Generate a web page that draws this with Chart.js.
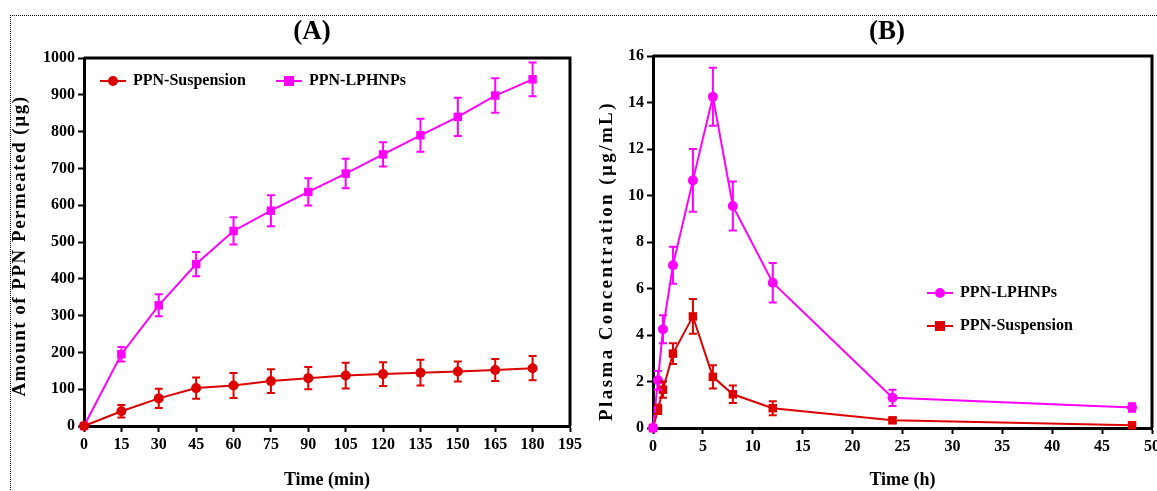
<!DOCTYPE html>
<html>
<head>
<meta charset="utf-8">
<script src="https://cdn.jsdelivr.net/npm/chart.js@4.4.0/dist/chart.umd.min.js"></script>
<style>
    html, body { margin: 0; padding: 0; background: #fff; overflow: hidden; }
    #wrap { position: relative; width: 1157px; height: 491px; }
    #frame {
        position: absolute; left: 10px; top: 15px; width: 1200px; height: 520px;
        border-top: 1px dotted #000; border-left: 1px dotted #000;
    }
    canvas { position: absolute; top: 0; }
</style>
</head>
<body>
<div id="wrap">
    <div id="frame"></div>
    <canvas id="chartA" width="600" height="491" style="left:0px"></canvas>
    <canvas id="chartB" width="579" height="491" style="left:578px"></canvas>
</div>
<script>
// (A) in-vitro permeation
const permeationTimes = [0, 15, 30, 45, 60, 75, 90, 105, 120, 135, 150, 165, 180];
const suspensionPermeated = [0, 40, 75, 103, 110, 122, 130, 137, 141, 145, 148, 152, 157];
const suspensionPermeatedSd = [0, 17, 26, 29, 34, 32, 30, 35, 32, 35, 27, 30, 33];
const lphnpPermeated = [0, 195, 328, 440, 530, 585, 636, 686, 738, 790, 840, 898, 942];
const lphnpPermeatedSd = [0, 20, 30, 33, 37, 42, 37, 40, 33, 45, 52, 47, 46];

// (B) plasma profile
const plasmaTimes = [0, 0.5, 1, 2, 4, 6, 8, 12, 24, 48];
const lphnpPlasma = [0, 2.05, 4.25, 7.0, 10.65, 14.25, 9.55, 6.25, 1.3, 0.88];
const lphnpPlasmaSd = [0, 0.4, 0.6, 0.8, 1.35, 1.25, 1.05, 0.85, 0.35, 0.18];
const suspensionPlasma = [0, 0.8, 1.65, 3.2, 4.8, 2.2, 1.45, 0.85, 0.33, 0.12];
const suspensionPlasmaSd = [0, 0.2, 0.35, 0.45, 0.75, 0.5, 0.38, 0.3, 0.1, 0.05];

const MAGENTA = '#FF00FF';
const RED = '#DD0000';
const FONT = "'Liberation Serif', 'Times New Roman', serif";

Chart.defaults.font.family = FONT;
Chart.defaults.font.weight = 'bold';
Chart.defaults.color = '#000';

function toPoints(xs, ys) {
    return xs.map((x, i) => ({ x, y: ys[i] }));
}

function makeDataset(label, xs, ys, sd, color, pointStyle) {
    return {
        label,
        data: toPoints(xs, ys),
        errors: sd,
        borderColor: color,
        backgroundColor: color,
        borderWidth: 2,
        pointStyle,
        pointRadius: pointStyle === 'rect' ? 6 : 5,
        pointBorderWidth: 0,
        tension: 0,
        clip: false
    };
}

const errorBarPlugin = {
    id: 'errorBars',
    afterDatasetsDraw(chart) {
        const ctx = chart.ctx;
        const xScale = chart.scales.x;
        const yScale = chart.scales.y;
        chart.data.datasets.forEach((ds) => {
            if (!ds.errors) {
                return;
            }
            ctx.save();
            ctx.strokeStyle = ds.borderColor;
            ctx.lineWidth = 2;
            ds.data.forEach((pt, i) => {
                const err = ds.errors[i];
                if (!err) {
                    return;
                }
                const px = xScale.getPixelForValue(pt.x);
                const top = yScale.getPixelForValue(pt.y + err);
                const bot = yScale.getPixelForValue(pt.y - err);
                ctx.beginPath();
                ctx.moveTo(px, top);
                ctx.lineTo(px, bot);
                ctx.moveTo(px - 4, top);
                ctx.lineTo(px + 4, top);
                ctx.moveTo(px - 4, bot);
                ctx.lineTo(px + 4, bot);
                ctx.stroke();
            });
            ctx.restore();
        });
    }
};

const boxPlugin = {
    id: 'boxFrame',
    beforeDatasetsDraw(chart) {
        const { ctx, chartArea } = chart;
        ctx.save();
        ctx.strokeStyle = '#000';
        ctx.lineWidth = 3;
        ctx.beginPath();
        ctx.moveTo(chartArea.left, chartArea.top);
        ctx.lineTo(chartArea.right, chartArea.top);
        ctx.lineTo(chartArea.right, chartArea.bottom);
        ctx.stroke();
        ctx.restore();
    }
};

// panel letter and spaced-out y title
const panelTextPlugin = {
    id: 'panelText',
    afterDraw(chart, args, opts) {
        const ctx = chart.ctx;
        const area = chart.chartArea;
        ctx.save();
        ctx.font = `bold 27px ${FONT}`;
        ctx.fillStyle = '#000';
        ctx.textAlign = 'center';
        ctx.textBaseline = 'middle';
        ctx.fillText(opts.letter, opts.letterX, 32);

        ctx.translate(opts.yTitleX, (area.top + area.bottom) / 2 + opts.yTitleShift);
        ctx.rotate(-Math.PI / 2);
        ctx.font = `bold ${opts.yTitleSize}px ${FONT}`;
        ctx.letterSpacing = opts.yTitleSpacing + 'px';
        ctx.fillText(opts.yTitle, 0, 0);
        ctx.restore();
    }
};

const manualLegendPlugin = {
    id: 'manualLegend',
    afterDraw(chart, args, opts) {
        const ctx = chart.ctx;
        opts.items.forEach((item) => {
            const ds = chart.data.datasets[item.datasetIndex];
            ctx.save();
            ctx.strokeStyle = ds.borderColor;
            ctx.fillStyle = ds.backgroundColor;
            ctx.lineWidth = 2;
            ctx.beginPath();
            ctx.moveTo(item.x - 13, item.y);
            ctx.lineTo(item.x + 13, item.y);
            ctx.stroke();
            if (ds.pointStyle === 'rect') {
                ctx.fillRect(item.x - 5, item.y - 5, 10, 10);
            } else {
                ctx.beginPath();
                ctx.arc(item.x, item.y, 5, 0, Math.PI * 2);
                ctx.fill();
            }
            ctx.font = `bold 16px ${FONT}`;
            ctx.fillStyle = '#000';
            ctx.textBaseline = 'middle';
            ctx.fillText(ds.label, item.x + 20, item.y);
            ctx.restore();
        });
    }
};

function axisOptions(min, max, step) {
    return {
        type: 'linear',
        min,
        max,
        ticks: {
            stepSize: step,
            autoSkip: false,
            padding: 3,
            maxRotation: 0,
            font: { size: 16, weight: 'bold' },
            callback: (value) => String(value)
        },
        grid: {
            drawOnChartArea: false,
            drawTicks: true,
            tickLength: 6,
            tickWidth: 2,
            tickColor: '#000'
        },
        border: { color: '#000', width: 3 }
    };
}

function renderPanel(canvasId, datasets, xAxis, yAxis, layout, text, legendItems) {
    const canvasElement = document.getElementById(canvasId);
    const yOpts = axisOptions(yAxis.min, yAxis.max, yAxis.step);
    yOpts.afterFit = (scale) => {
        scale.width = layout.yWidth;
        scale.paddingTop = 0;
        scale.paddingBottom = 0;
    };
    const xOpts = axisOptions(xAxis.min, xAxis.max, xAxis.step);
    xOpts.title = {
        display: true,
        text: xAxis.title,
        font: { size: 18, weight: 'bold' },
        padding: { top: 4, bottom: 0 }
    };
    xOpts.afterFit = (scale) => {
        scale.height = layout.xHeight;
        scale.paddingLeft = 0;
        scale.paddingRight = 0;
    };

    return new Chart(canvasElement, {
        type: 'line',
        data: { datasets },
        options: {
            responsive: false,
            animation: false,
            devicePixelRatio: 1,
            layout: {
                autoPadding: false,
                padding: layout.padding
            },
            plugins: {
                legend: { display: false },
                tooltip: { enabled: false },
                panelText: Object.assign({ yTitle: yAxis.title }, text),
                manualLegend: { items: legendItems }
            },
            scales: { x: xOpts, y: yOpts }
        },
        plugins: [boxPlugin, errorBarPlugin, panelTextPlugin, manualLegendPlugin]
    });
}

renderPanel(
    'chartA',
    [
        makeDataset('PPN-Suspension', permeationTimes, suspensionPermeated, suspensionPermeatedSd, RED, 'circle'),
        makeDataset('PPN-LPHNPs', permeationTimes, lphnpPermeated, lphnpPermeatedSd, MAGENTA, 'rect')
    ],
    { min: 0, max: 195, step: 15, title: 'Time (min)' },
    { min: 0, max: 1000, step: 100, title: 'Amount of PPN Permeated (µg)' },
    { padding: { left: 0, right: 30, top: 58, bottom: 0 }, yWidth: 84, xHeight: 65 },
    { letter: '(A)', letterX: 312, yTitleX: 20, yTitleShift: 4, yTitleSize: 19, yTitleSpacing: 1.5 },
    [
        { datasetIndex: 0, x: 113, y: 81 },
        { datasetIndex: 1, x: 289, y: 81 }
    ]
);

renderPanel(
    'chartB',
    [
        makeDataset('PPN-LPHNPs', plasmaTimes, lphnpPlasma, lphnpPlasmaSd, MAGENTA, 'circle'),
        makeDataset('PPN-Suspension', plasmaTimes, suspensionPlasma, suspensionPlasmaSd, RED, 'rect')
    ],
    { min: 0, max: 50, step: 5, title: 'Time (h)' },
    { min: 0, max: 16, step: 2, title: 'Plasma Concentration (µg/mL)' },
    { padding: { left: 0, right: 5, top: 56, bottom: 0 }, yWidth: 75, xHeight: 63 },
    { letter: '(B)', letterX: 309, yTitleX: 29, yTitleShift: 19, yTitleSize: 19, yTitleSpacing: 2.4 },
    [
        { datasetIndex: 0, x: 362, y: 293 },
        { datasetIndex: 1, x: 362, y: 326 }
    ]
);
</script>
</body>
</html>
